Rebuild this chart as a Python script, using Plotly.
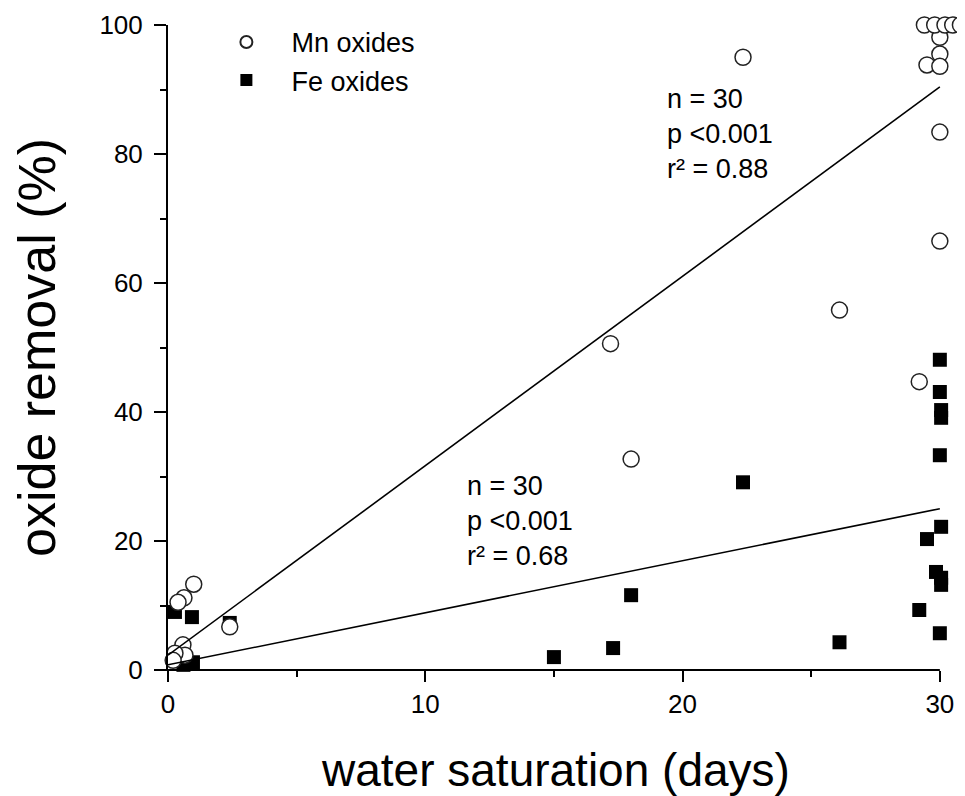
import plotly.graph_objects as go

# ---- data ----
mn_days = [1.0, 0.62, 0.39, 2.4, 0.58, 0.66, 0.27, 0.2,
           17.2, 18.0, 22.35, 26.1, 29.2, 30.0, 30.0,
           30.0, 30.0, 29.5, 30.0,
           29.4, 29.8, 30.2, 30.5, 30.8]
mn_removal = [13.3, 11.2, 10.5, 6.7, 3.9, 2.3, 2.6, 1.5,
              50.6, 32.7, 95.0, 55.8, 44.7, 66.5, 83.4,
              98.1, 95.5, 93.8, 93.6,
              100, 100, 100, 100, 100]

fe_days = [0.27, 0.93, 2.4, 0.97, 0.6,
           15.0, 17.3, 18.0, 22.35, 26.1,
           30.0, 30.0, 30.05, 30.05, 30.0,
           30.05, 29.5, 29.85, 30.05, 30.05, 29.2, 30.0]
fe_removal = [9.0, 8.2, 7.3, 1.2, 0.8,
              2.0, 3.4, 11.6, 29.1, 4.3,
              48.1, 43.1, 40.3, 39.1, 33.3,
              22.2, 20.3, 15.2, 14.3, 13.2, 9.3, 5.7]

# regression fits
fit_x = [0, 30]
mn_fit_intercept, mn_fit_slope = 2.3, 2.937
fe_fit_intercept, fe_fit_slope = 0.8, 0.807

mn_stats = ["n = 30", "p <0.001", "r² = 0.88"]
fe_stats = ["n = 30", "p <0.001", "r² = 0.68"]

x_ticks = [0, 10, 20, 30]
y_ticks = [0, 20, 40, 60, 80, 100]
x_title = "water saturation (days)"
y_title = "oxide removal (%)"

FONT = "Arial, Liberation Sans, sans-serif"

fig = go.Figure()

fig.add_trace(go.Scatter(
    x=fe_days, y=fe_removal, mode="markers", name="Fe oxides",
    marker=dict(symbol="square", size=14, color="black", line=dict(width=0)),
    cliponaxis=False, legendrank=2))

fig.add_trace(go.Scatter(
    x=mn_days, y=mn_removal, mode="markers", name="Mn oxides",
    marker=dict(symbol="circle", size=16, color="white",
                line=dict(color="#222222", width=1.5)),
    cliponaxis=False, legendrank=1))

fig.add_trace(go.Scatter(
    x=fit_x, y=[mn_fit_intercept + mn_fit_slope * v for v in fit_x],
    mode="lines", line=dict(color="black", width=1.6), showlegend=False,
    cliponaxis=False))
fig.add_trace(go.Scatter(
    x=fit_x, y=[fe_fit_intercept + fe_fit_slope * v for v in fit_x],
    mode="lines", line=dict(color="black", width=1.6), showlegend=False,
    cliponaxis=False))

fig.add_annotation(x=19.3, y=83.1, xref="x", yref="y", text="<br>".join(mn_stats),
                   showarrow=False, xanchor="left", yanchor="middle", align="left",
                   font=dict(family=FONT, size=27, color="black"))
fig.add_annotation(x=11.55, y=23.1, xref="x", yref="y", text="<br>".join(fe_stats),
                   showarrow=False, xanchor="left", yanchor="middle", align="left",
                   font=dict(family=FONT, size=27, color="black"))

# x axis title (centred under the 0-30 span rather than the padded range)
fig.add_annotation(x=0.488, y=-0.155, xref="paper", yref="paper", text=x_title,
                   showarrow=False, xanchor="center", yanchor="middle",
                   font=dict(family=FONT, size=46, color="black"))

tick_common = dict(ticks="outside", tickwidth=2, tickcolor="black",
                   showgrid=False, zeroline=False, mirror=False,
                   tickfont=dict(family=FONT, size=26, color="black"))

# x range is a bit wider than 30 so the points at ~30.5 stay visible;
# the axis line itself is drawn only from 0 to 30 (shape below)
fig.update_xaxes(range=[0, 30.9], tickmode="array", tickvals=x_ticks,
                 showline=False, ticklen=11,
                 minor=dict(tickvals=[5, 15, 25], ticks="outside", ticklen=6,
                            tickwidth=2, tickcolor="black", showgrid=False),
                 **tick_common)
fig.update_yaxes(range=[0, 100], tickmode="array", tickvals=y_ticks,
                 showline=True, linecolor="black", linewidth=2, ticklen=12,
                 ticklabelstandoff=6,
                 minor=dict(dtick=10, ticks="outside", ticklen=6, tickwidth=2,
                            tickcolor="black", showgrid=False),
                 title=dict(text=y_title, standoff=28,
                            font=dict(family=FONT, size=52, color="black")),
                 **tick_common)

# x axis line from 0 to 30 and the small extensions past the origin
fig.add_shape(type="line", xref="x", yref="paper", x0=0, x1=30, y0=0, y1=0,
              line=dict(color="black", width=2), layer="above")
fig.add_shape(type="line", xref="paper", yref="paper", x0=-0.017, x1=0, y0=0, y1=0,
              line=dict(color="black", width=2))
fig.add_shape(type="line", xref="paper", yref="paper", x0=0, x1=0, y0=-0.016, y1=0,
              line=dict(color="black", width=2))

fig.update_layout(
    width=965, height=796,
    margin=dict(l=160, r=10, t=17, b=134, autoexpand=False),
    plot_bgcolor="white", paper_bgcolor="white",
    font=dict(family=FONT, color="black"),
    legend=dict(x=0.042, y=1.011, xanchor="left", yanchor="top",
                bgcolor="rgba(0,0,0,0)", borderwidth=0,
                font=dict(family=FONT, size=27, color="black"),
                itemsizing="constant", itemwidth=80, tracegroupgap=0),
)

fig.write_html("out.html")
